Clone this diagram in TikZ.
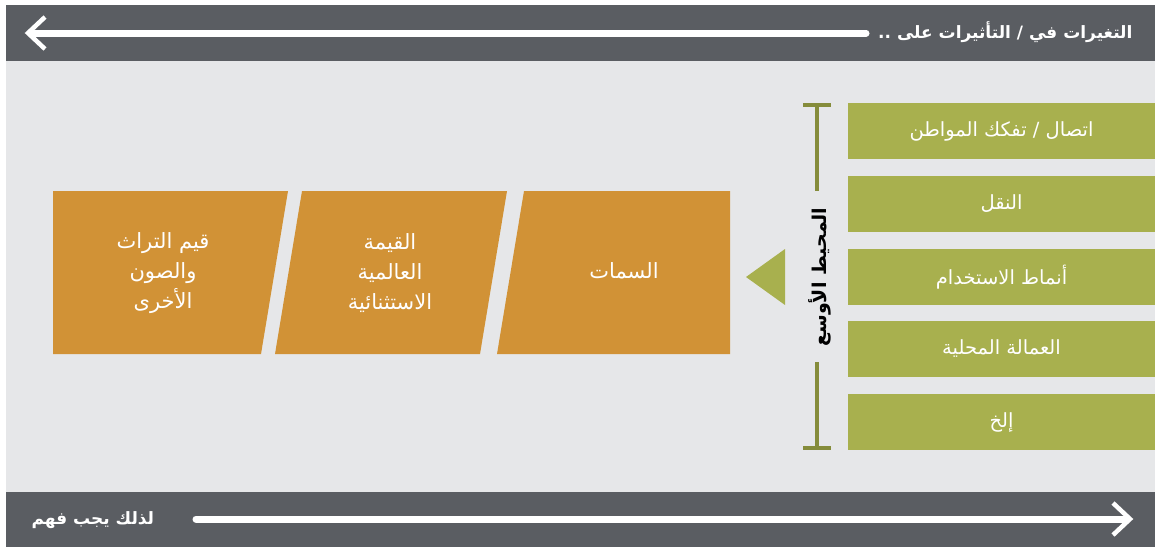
\documentclass[tikz,border=0pt]{standalone}
\usepackage{fontspec}
\newfontfamily\arabicfont[Script=Arabic]{DejaVu Sans}
\TeXXeTstate=1
\newcommand{\artext}[1]{{\arabicfont\beginR #1\endR}}

\definecolor{bandgray}{HTML}{5A5D62}
\definecolor{panelgray}{HTML}{E6E7E9}
\definecolor{leafgreen}{HTML}{A8B04E}
\definecolor{olivegreen}{HTML}{858C3B}
\definecolor{ochre}{HTML}{D19236}

\begin{document}
\begin{tikzpicture}[x=1pt,y=-1pt,
        greenbox/.style={fill=leafgreen,minimum width=307pt,minimum height=56pt,inner sep=0pt,text=white,font=\fontsize{19.5}{22}\selectfont},
        ochretext/.style={text=white,align=center,font=\fontsize{21}{30}\selectfont},
        bandtext/.style={text=white,font=\fontsize{17}{20}\selectfont\bfseries}]
        \useasboundingbox (0,0) rectangle (1155,547);

        % Background bands
        \fill[bandgray] (6,5) rectangle (1155,61);
        \fill[panelgray] (6,61) rectangle (1155,492);
        \fill[bandgray] (6,492) rectangle (1155,547);

        % Top band: heading and arrow to the left
        \node[bandtext,anchor=east] (topnote) at (1136,32) {\artext{التغيرات في / التأثيرات على ..}};
        \coordinate (topstart) at (866,33);
        \coordinate (toptip) at (28,33);
        \draw[white,line width=7pt,line cap=round] (topstart) -- ([xshift=4pt]toptip);
        \draw[white,line width=4.5pt] ([shift={(17,-16)}]toptip) -- (toptip) -- ([shift={(17,16)}]toptip);

        % Bottom band: heading and arrow to the right
        \node[bandtext,anchor=west] (bottomnote) at (28,520) {\artext{لذلك يجب فهم}};
        \coordinate (bottomstart) at (196,519);
        \coordinate (bottomtip) at (1130,519);
        \draw[white,line width=7pt,line cap=round] (bottomstart) -- ([xshift=-4pt]bottomtip);
        \draw[white,line width=4.5pt] ([shift={(-17,-16)}]bottomtip) -- (bottomtip) -- ([shift={(-17,16)}]bottomtip);

        % Ochre parallelograms
        \fill[ochre] (53,191) -- (288,191) -- (261,354) -- (53,354) -- cycle;
        \fill[ochre] (302,191) -- (507,191) -- (480,354) -- (275,354) -- cycle;
        \fill[ochre] (524,191) -- (730,191) -- (730,354) -- (497,354) -- cycle;
        \node[ochretext] (heritage) at (163,273) {\artext{قيم التراث}\\\artext{والصون}\\\artext{الأخرى}};
        \node[ochretext] (outstanding) at (390,273) {\artext{القيمة}\\\artext{العالمية}\\\artext{الاستثنائية}};
        \node[ochretext] (attributes) at (624,271) {\artext{السمات}};

        % Pointer triangle
        \fill[leafgreen] (746,277) -- (785,249) -- (785,305) -- cycle;

        % Bracket with rotated label
        \draw[olivegreen,line width=4pt] (817,103) -- (817,191) (817,362) -- (817,450);
        \draw[olivegreen,line width=4pt] (803,105) -- (831,105) (803,448) -- (831,448);
        \node[rotate=90,font=\fontsize{19}{22}\selectfont\bfseries] (widerlabel) at (820,277) {\artext{المحيط الأوسع}};

        % Green boxes (wider setting)
        \node[greenbox] (links) at (1001.5,131) {\artext{اتصال / تفكك المواطن}};
        \node[greenbox] (transport) at (1001.5,204) {\artext{النقل}};
        \node[greenbox] (landuse) at (1001.5,277) {\artext{أنماط الاستخدام}};
        \node[greenbox] (labour) at (1001.5,349) {\artext{العمالة المحلية}};
        \node[greenbox] (others) at (1001.5,422) {\artext{إلخ}};

    \end{tikzpicture}
\end{document}
